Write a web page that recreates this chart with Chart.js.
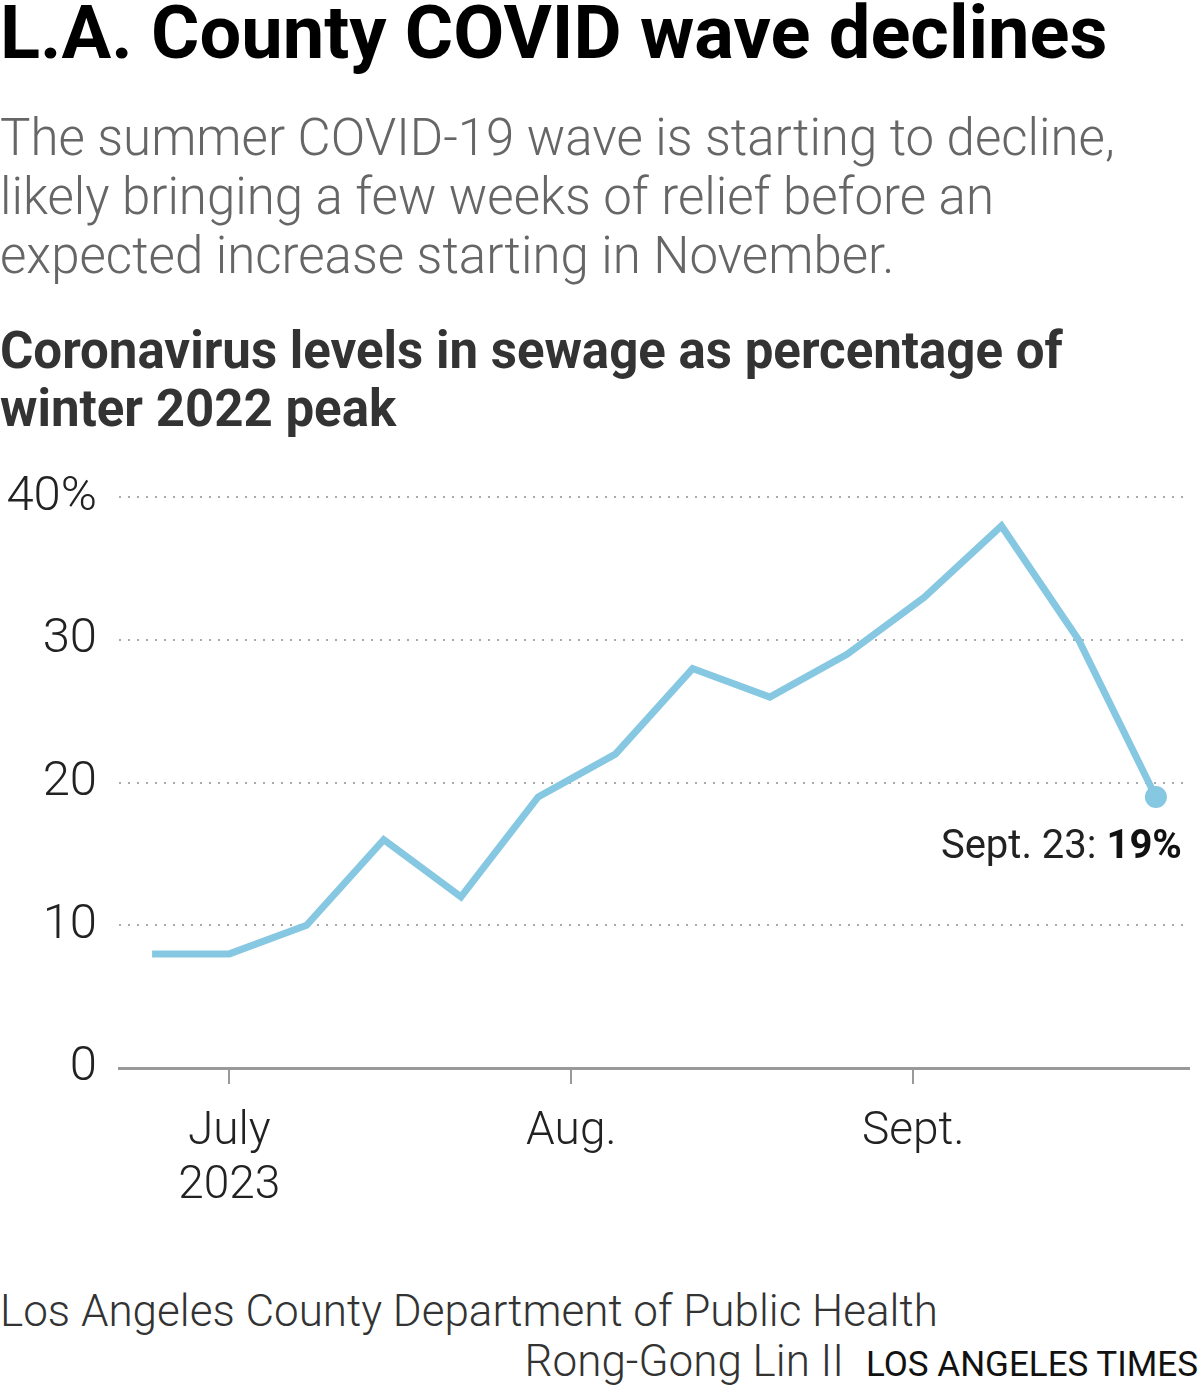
<!DOCTYPE html>
<html>
<head>
<meta charset="utf-8">
<script src="https://cdn.jsdelivr.net/npm/chart.js@4/dist/chart.umd.min.js"></script>
<style>
  html, body { margin: 0; padding: 0; background: #fff; }
  body { width: 1200px; height: 1391px; position: relative; overflow: hidden;
         font-family: "Roboto", "Liberation Sans", sans-serif; }
  .t { position: absolute; left: 0; white-space: nowrap; }
  #title { top: -5px; font-size: 74px; line-height: 75px; font-weight: bold; color: #000; letter-spacing: 0px; }
  #dek { top: 108px; font-size: 51px; line-height: 59px; color: #666; font-weight: 300; }
  #hed { top: 322px; font-size: 51px; line-height: 58px; font-weight: bold; color: #333; }
  #source { top: 1287px; font-size: 44px; line-height: 48px; color: #333; font-weight: 300; }
  #byline { top: 1337px; right: 2px; left: auto; font-size: 44px; line-height: 48px; color: #333; font-weight: 300; }
  #byline span { font-size: 35px; color: #111; margin-left: 22px; font-weight: 400; }
  #wrap { position: absolute; left: 0; top: 446px; width: 1200px; height: 800px; }
</style>
</head>
<body>
<div class="t" id="title">L.A. County COVID wave declines</div>
<div class="t" id="dek">The summer COVID-19 wave is starting to decline,<br>likely bringing a few weeks of relief before an<br>expected increase starting in November.</div>
<div class="t" id="hed">Coronavirus levels in sewage as percentage of<br>winter 2022 peak</div>
<div id="wrap"><canvas id="c" width="1200" height="800"></canvas></div>
<div class="t" id="source">Los Angeles County Department of Public Health</div>
<div class="t" id="byline">Rong-Gong Lin II<span>LOS ANGELES TIMES</span></div>
<script>
// ---- data ----
const weekDates = ["2023-06-24","2023-07-01","2023-07-08","2023-07-15","2023-07-22","2023-07-29",
                   "2023-08-05","2023-08-12","2023-08-19","2023-08-26","2023-09-02","2023-09-09",
                   "2023-09-16","2023-09-23"];
const sewagePct = [8, 8, 10, 16, 12, 19, 22, 28, 26, 29, 33, 38, 30, 19];
const monthTickDates = ["2023-07-01","2023-08-01","2023-09-01"];
const monthTickLabels = [["July","2023"], ["Aug."], ["Sept."]];
const yTicks = [0, 10, 20, 30, 40];
const lastLabelDate = "Sept. 23: ";
const lastLabelValue = "19%";

const origin = Date.UTC(2023, 6, 1);
const toDay = s => { const [y,m,d] = s.split("-").map(Number); return (Date.UTC(y, m-1, d) - origin) / 86400000; };
const points = weekDates.map((d, i) => ({ x: toDay(d), y: sewagePct[i] }));
const monthTickValues = monthTickDates.map(toDay);

const FONT = '"Roboto", "Liberation Sans", sans-serif';
const lineColor = '#86c7e1';

const endLabel = {
  id: 'endLabel',
  afterDatasetsDraw(chart) {
    const meta = chart.getDatasetMeta(0);
    const pt = meta.data[meta.data.length - 1];
    const ctx = chart.ctx;
    ctx.save();
    ctx.textBaseline = 'alphabetic';
    ctx.textAlign = 'right';
    const right = pt.x + 26;
    const base = pt.y + 61;
    ctx.font = 'bold 40px ' + FONT;
    ctx.fillStyle = '#111';
    ctx.fillText(lastLabelValue, right, base);
    const w = ctx.measureText(lastLabelValue).width;
    ctx.font = '40px ' + FONT;
    ctx.fillStyle = '#222';
    ctx.fillText(lastLabelDate, right - w, base);
    ctx.restore();
  }
};

new Chart(document.getElementById('c'), {
  type: 'line',
  data: {
    datasets: [{
      data: points,
      borderColor: lineColor,
      backgroundColor: lineColor,
      borderWidth: 7,
      borderJoinStyle: 'miter',
      pointRadius: points.map((p, i) => i === points.length - 1 ? 11 : 0),
      pointBorderWidth: 0,
      pointHoverRadius: 0,
      tension: 0,
      fill: false
    }]
  },
  options: {
    responsive: false,
    animation: false,
    events: [],
    layout: { padding: { top: 50, right: 8, left: 0, bottom: 0 } },
    plugins: { legend: { display: false }, tooltip: { enabled: false } },
    scales: {
      x: {
        type: 'linear',
        min: -10,
        max: 87,
        afterBuildTicks: s => { s.ticks = monthTickValues.map(v => ({ value: v })); },
        afterFit: s => { s.height = 178; },
        ticks: {
          autoSkip: false,
          maxRotation: 0,
          padding: 22,
          color: '#222',
          font: { family: FONT, size: 46, weight: 300, lineHeight: 1.17 },
          callback: (v) => monthTickLabels[monthTickValues.indexOf(v)]
        },
        grid: { drawOnChartArea: false, drawTicks: true, tickLength: 16, color: '#999', lineWidth: 2 },
        border: { display: true, color: '#999', width: 3 }
      },
      y: {
        min: 0,
        max: 40,
        afterBuildTicks: s => { s.ticks = yTicks.map(v => ({ value: v })); },
        afterFit: s => { s.width = 119; },
        ticks: {
          padding: 22,
          color: '#222',
          font: { family: FONT, size: 49, weight: 300 },
          callback: v => v === 40 ? '40%' : String(v)
        },
        grid: { drawTicks: false, lineWidth: 2, color: ctx => ctx.tick && ctx.tick.value === 0 ? 'rgba(0,0,0,0)' : '#aaa' },
        border: { display: false, dash: [2, 7] }
      }
    }
  },
  plugins: [endLabel]
});
</script>
</body>
</html>
